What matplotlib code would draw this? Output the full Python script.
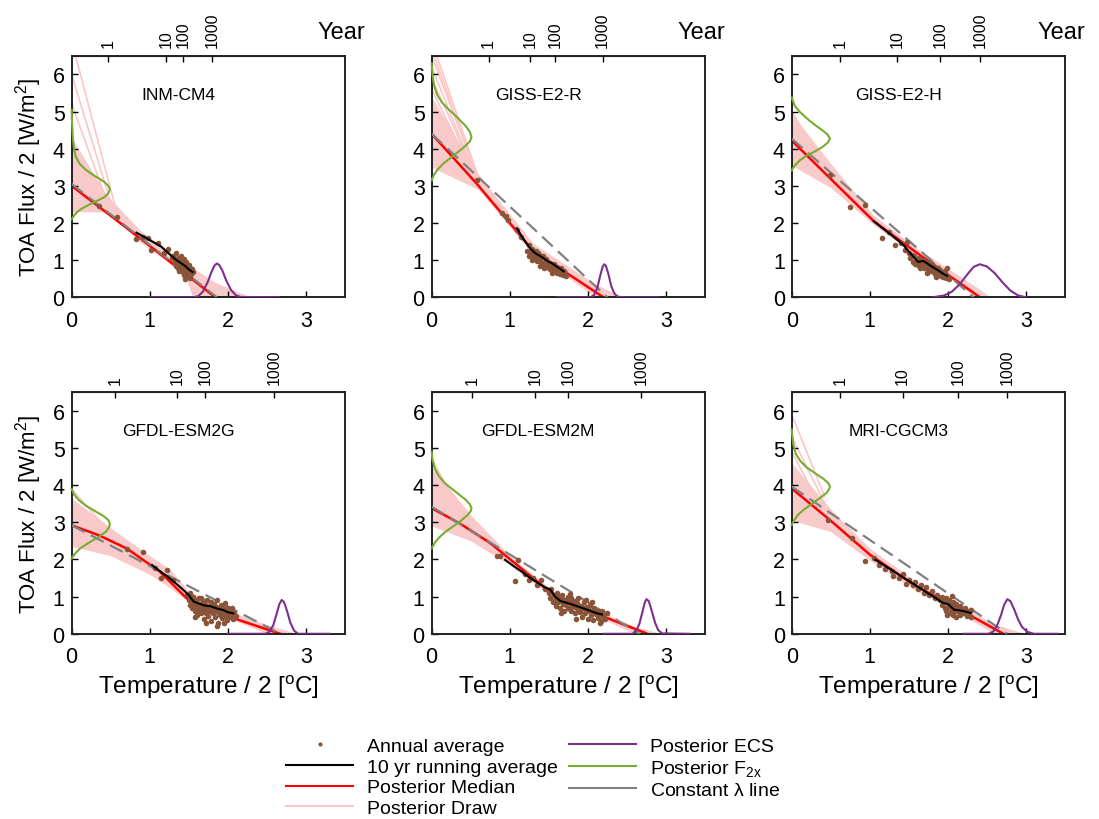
import matplotlib
matplotlib.use('Agg')
import matplotlib.pyplot as plt
from matplotlib.lines import Line2D

plt.rcParams['font.family'] = ['Liberation Sans', 'DejaVu Sans']
plt.rcParams['mathtext.fontset'] = 'custom'
plt.rcParams['mathtext.rm'] = 'Liberation Sans'
plt.rcParams['mathtext.it'] = 'Liberation Sans:italic'
plt.rcParams['mathtext.default'] = 'regular'

# ---------------- data ----------------
models = ['INM-CM4', 'GISS-E2-R', 'GISS-E2-H', 'GFDL-ESM2G', 'GFDL-ESM2M', 'MRI-CGCM3']
year_labels = ['1', '10', '100', '1000']
year_pos = [[0.47, 1.21, 1.43, 1.80],
            [0.73, 1.26, 1.58, 2.19],
            [0.62, 1.35, 1.90, 2.41],
            [0.56, 1.35, 1.71, 2.59],
            [0.52, 1.32, 1.75, 2.68],
            [0.62, 1.42, 2.13, 2.76]]

# annual averages (T, F)
inm_points = [(0.35, 2.46), (0.58, 2.17), (0.83, 1.56), (0.92, 1.62), (0.98, 1.61), (1.01, 1.28),
              (1.11, 1.47), (1.18, 1.20), (1.24, 1.31), (1.28, 1.05), (1.30, 1.12), (1.32, 0.98),
              (1.34, 1.18), (1.35, 0.90), (1.36, 1.05), (1.37, 0.82), (1.38, 1.00), (1.39, 0.92),
              (1.40, 0.75), (1.40, 1.10), (1.41, 0.86), (1.42, 0.68), (1.42, 0.95), (1.43, 0.80),
              (1.44, 1.02), (1.44, 0.60), (1.45, 0.88), (1.46, 0.72), (1.46, 0.55), (1.47, 0.95),
              (1.48, 0.82), (1.48, 0.65), (1.49, 0.75), (1.50, 0.88), (1.50, 0.58), (1.51, 0.70),
              (1.52, 0.80), (1.53, 0.62), (1.54, 0.75), (1.55, 0.68), (1.38, 0.72), (1.36, 0.78),
              (1.33, 0.85), (1.45, 0.50), (1.52, 0.52)]
gissr_points = [(0.58, 3.15), (0.90, 2.26), (0.95, 2.20), (0.98, 2.08), (1.09, 1.81), (1.15, 1.62),
                (1.22, 1.25), (1.24, 1.10), (1.25, 1.40), (1.27, 1.20), (1.28, 1.00), (1.29, 1.30),
                (1.30, 1.15), (1.31, 1.05), (1.33, 1.25), (1.34, 1.12), (1.35, 0.98), (1.36, 1.20),
                (1.37, 1.05), (1.38, 1.15), (1.40, 0.95), (1.41, 1.08), (1.42, 0.88), (1.43, 1.12),
                (1.45, 0.92), (1.46, 1.02), (1.47, 0.85), (1.48, 0.96), (1.50, 0.80), (1.51, 0.92),
                (1.52, 0.75), (1.53, 0.88), (1.55, 0.80), (1.56, 0.70), (1.57, 0.90), (1.58, 0.75),
                (1.60, 0.65), (1.61, 0.82), (1.62, 0.72), (1.64, 0.62), (1.65, 0.78), (1.66, 0.68),
                (1.68, 0.60), (1.70, 0.72), (1.71, 0.65), (1.72, 0.58), (1.44, 0.78), (1.39, 0.85),
                (1.54, 0.65)]
gissh_points = [(0.49, 3.29), (0.75, 2.44), (0.94, 2.48), (1.15, 1.59), (1.24, 1.75), (1.32, 1.41),
                (1.40, 1.45), (1.47, 1.50), (1.45, 1.28), (1.50, 1.20), (1.52, 1.05), (1.54, 1.15),
                (1.55, 0.95), (1.57, 1.10), (1.58, 0.90), (1.60, 1.00), (1.62, 0.88), (1.63, 1.05),
                (1.64, 0.80), (1.66, 0.95), (1.67, 0.85), (1.68, 1.00), (1.70, 0.78), (1.71, 0.90),
                (1.72, 0.82), (1.74, 0.95), (1.75, 0.75), (1.76, 0.85), (1.78, 0.70), (1.79, 0.80),
                (1.80, 0.90), (1.82, 0.68), (1.83, 0.78), (1.84, 0.62), (1.86, 0.72), (1.87, 0.80),
                (1.88, 0.60), (1.90, 0.70), (1.91, 0.58), (1.92, 0.66), (1.94, 0.55), (1.95, 0.62),
                (1.96, 0.70), (1.97, 0.52), (1.98, 0.60), (2.00, 0.56), (2.01, 0.48), (1.99, 0.80),
                (1.85, 0.55), (1.73, 0.65)]
esm2g_points = [(0.71, 2.29), (0.92, 2.20), (1.07, 1.76), (1.15, 1.49), (1.22, 1.71), (1.30, 1.45),
                (1.48, 1.05), (1.50, 0.90), (1.51, 1.10), (1.52, 0.78), (1.53, 0.98), (1.54, 0.68),
                (1.55, 0.88), (1.56, 1.00), (1.57, 0.75), (1.58, 0.60), (1.59, 0.90), (1.60, 0.82),
                (1.61, 0.50), (1.62, 0.70), (1.63, 0.95), (1.64, 0.62), (1.65, 0.80), (1.66, 0.55),
                (1.67, 0.72), (1.68, 0.88), (1.69, 0.40), (1.70, 0.65), (1.71, 0.78), (1.72, 0.55),
                (1.73, 0.90), (1.74, 0.68), (1.75, 0.48), (1.76, 0.75), (1.77, 0.60), (1.78, 0.85),
                (1.79, 0.35), (1.80, 0.70), (1.81, 0.55), (1.82, 0.80), (1.83, 0.62), (1.84, 0.45),
                (1.85, 0.72), (1.86, 0.90), (1.87, 0.58), (1.88, 0.28), (1.89, 0.68), (1.90, 0.50),
                (1.91, 0.78), (1.92, 0.60), (1.93, 0.42), (1.94, 0.70), (1.95, 0.55), (1.96, 0.82),
                (1.97, 0.48), (1.98, 0.62), (1.99, 0.38), (2.00, 0.70), (2.01, 0.55), (2.02, 0.45),
                (2.03, 0.62), (2.04, 0.50), (2.05, 0.68), (2.06, 0.40), (2.08, 0.55), (2.10, 0.48),
                (1.58, 0.45), (1.66, 0.95), (1.72, 0.30), (1.86, 0.22), (1.95, 0.30)]
esm2m_points = [(0.83, 2.08), (0.87, 2.08), (1.07, 1.41), (1.11, 1.99), (1.20, 1.60), (1.25, 1.45),
                (1.30, 1.50), (1.35, 1.30), (1.40, 1.45), (1.45, 1.20), (1.50, 1.10), (1.52, 0.95),
                (1.53, 1.20), (1.55, 0.85), (1.56, 1.05), (1.58, 0.92), (1.59, 0.75), (1.60, 1.10),
                (1.62, 0.85), (1.63, 0.98), (1.64, 0.70), (1.66, 0.90), (1.67, 1.05), (1.68, 0.80),
                (1.70, 0.62), (1.71, 0.92), (1.72, 0.78), (1.74, 1.00), (1.75, 0.70), (1.76, 0.85),
                (1.78, 0.60), (1.79, 0.95), (1.80, 0.75), (1.82, 0.88), (1.83, 0.55), (1.84, 0.72),
                (1.86, 0.82), (1.87, 0.65), (1.88, 0.95), (1.90, 0.58), (1.91, 0.75), (1.92, 0.45),
                (1.94, 0.68), (1.95, 0.85), (1.96, 0.55), (1.98, 0.72), (1.99, 0.62), (2.00, 0.40),
                (2.02, 0.65), (2.03, 0.78), (2.04, 0.50), (2.06, 0.60), (2.07, 0.38), (2.08, 0.70),
                (2.10, 0.52), (2.12, 0.60), (2.13, 0.42), (2.15, 0.55), (2.17, 0.35), (2.18, 0.62),
                (2.20, 0.48), (2.22, 0.40), (2.24, 0.55), (1.97, 0.92), (2.05, 0.85), (1.65, 0.55),
                (1.85, 0.40), (2.15, 0.30), (1.77, 1.08)]
mri_points = [(0.47, 3.06), (0.77, 2.57), (0.94, 1.95), (1.05, 2.05), (1.12, 1.85), (1.20, 1.75),
              (1.28, 1.70), (1.30, 1.55), (1.38, 1.50), (1.42, 1.62), (1.46, 1.35), (1.50, 1.45),
              (1.55, 1.30), (1.58, 1.40), (1.62, 1.20), (1.65, 1.32), (1.70, 1.10), (1.72, 1.25),
              (1.76, 1.05), (1.80, 1.15), (1.84, 0.95), (1.86, 1.05), (1.90, 0.90), (1.92, 0.78),
              (1.93, 1.00), (1.95, 0.85), (1.96, 0.70), (1.97, 0.95), (1.98, 0.62), (2.00, 0.82),
              (2.01, 0.72), (2.02, 0.90), (2.03, 0.55), (2.04, 0.78), (2.05, 0.65), (2.06, 0.85),
              (2.07, 0.50), (2.08, 0.72), (2.09, 0.60), (2.10, 0.80), (2.11, 0.45), (2.12, 0.68),
              (2.14, 0.58), (2.15, 0.75), (2.16, 0.50), (2.18, 0.65), (2.20, 0.55), (2.22, 0.70),
              (2.24, 0.48), (2.25, 0.60), (2.27, 0.52), (2.29, 0.65), (2.30, 0.45), (2.05, 1.02),
              (1.99, 0.50)]

# 10 yr running averages
run_T = [[0.83, 0.95, 1.05, 1.15, 1.25, 1.33, 1.40, 1.45, 1.50, 1.55],
         [1.09, 1.18, 1.26, 1.33, 1.40, 1.48, 1.55, 1.62, 1.69],
         [1.05, 1.15, 1.25, 1.35, 1.43, 1.52, 1.62, 1.68, 1.73, 1.80, 1.88, 1.95, 1.99],
         [1.03, 1.12, 1.22, 1.32, 1.42, 1.50, 1.56, 1.62, 1.70, 1.78, 1.86, 1.94, 2.00, 2.07],
         [0.94, 1.05, 1.15, 1.25, 1.35, 1.45, 1.52, 1.58, 1.65, 1.75, 1.85, 1.95, 2.05, 2.12, 2.18],
         [1.07, 1.20, 1.35, 1.50, 1.65, 1.80, 1.94, 2.00, 2.08, 2.15, 2.22, 2.29]]
run_F = [[1.74, 1.60, 1.48, 1.36, 1.17, 1.02, 0.92, 0.85, 0.75, 0.68],
         [1.86, 1.55, 1.32, 1.18, 1.10, 0.98, 0.90, 0.80, 0.70],
         [2.05, 1.88, 1.72, 1.55, 1.41, 1.18, 0.95, 0.98, 0.92, 0.82, 0.72, 0.62, 0.58],
         [1.85, 1.70, 1.55, 1.38, 1.20, 1.04, 0.87, 0.82, 0.76, 0.74, 0.68, 0.64, 0.58, 0.55],
         [1.99, 1.82, 1.68, 1.52, 1.38, 1.25, 1.19, 1.00, 0.88, 0.82, 0.75, 0.68, 0.60, 0.55, 0.52],
         [1.99, 1.82, 1.62, 1.42, 1.22, 1.02, 0.83, 0.80, 0.65, 0.63, 0.60, 0.56]]

# posterior median
med_T = [[0, 0.9, 1.84],
         [0, 0.58, 1.30, 2.20],
         [0, 1.05, 1.60, 2.41],
         [0, 0.35, 0.71, 1.13, 1.47, 1.60, 2.07, 2.67],
         [0, 0.36, 0.75, 1.56, 2.24, 2.76],
         [0, 0.49, 1.00, 1.56, 2.03, 2.71]]
med_F = [[3.00, 1.55, 0],
         [4.40, 3.05, 1.25, 0],
         [4.22, 2.05, 1.20, 0],
         [2.92, 2.65, 2.29, 1.67, 0.96, 0.78, 0.42, 0],
         [3.38, 2.97, 2.44, 1.05, 0.43, 0],
         [3.91, 3.06, 2.13, 1.32, 0.79, 0]]

# posterior draw envelope
band_T = [[0, 0.45, 0.9, 1.30, 1.45, 1.55, 1.84, 2.30],
          [0, 0.60, 1.30, 1.70, 2.10, 2.45],
          [0, 0.50, 1.05, 1.60, 2.00, 2.35, 2.55],
          [0, 0.50, 1.00, 1.25, 1.50, 1.80, 2.10, 2.50, 2.90],
          [0, 0.50, 1.00, 1.56, 2.24, 2.60, 2.95],
          [0, 0.50, 1.00, 1.56, 2.03, 2.60, 3.00]]
band_lo = [[2.30, 2.30, 1.45, 0.85, 0.60, 0.0, 0.0, 0.0],
           [3.50, 2.90, 1.15, 0.60, 0.0, 0.0],
           [3.55, 2.95, 1.95, 1.10, 0.55, 0.0, 0.0],
           [2.35, 2.10, 1.60, 1.25, 0.85, 0.55, 0.35, 0.0, 0.0],
           [2.90, 2.50, 1.85, 0.95, 0.35, 0.0, 0.0],
           [3.05, 2.75, 1.98, 1.20, 0.68, 0.0, 0.0]]
band_hi = [[4.30, 2.75, 1.75, 1.15, 0.95, 0.80, 0.40, 0.0],
           [5.40, 3.30, 1.45, 0.90, 0.35, 0.0],
           [4.95, 3.60, 2.20, 1.32, 0.78, 0.30, 0.0],
           [3.65, 2.85, 2.10, 1.75, 1.15, 0.85, 0.55, 0.25, 0.0],
           [4.50, 3.20, 2.10, 1.15, 0.52, 0.20, 0.0],
           [4.60, 3.35, 2.30, 1.45, 0.92, 0.25, 0.0]]

# individual steep posterior draws: start (0, f0) -> (tk, fk)
draw_f0 = [[6.9, 6.0, 5.2],
           [6.9, 6.7, 6.5, 6.2, 5.9, 5.6, 5.2],
           [5.0, 4.6],
           [3.9, 3.4],
           [4.7, 4.2],
           [5.9, 5.3, 4.9]]
draw_tk = [[0.55, 0.50, 0.45],
           [0.62, 0.60, 0.62, 0.58, 0.60, 0.56, 0.60],
           [0.50, 0.45],
           [0.50, 0.45],
           [0.45, 0.45],
           [0.42, 0.45, 0.40]]
draw_fk = [[2.50, 2.55, 2.60],
           [3.10, 3.10, 3.05, 3.15, 3.10, 3.20, 3.10],
           [3.25, 3.20],
           [2.70, 2.60],
           [3.00, 3.05],
           [3.70, 3.40, 3.30]]

# constant lambda line: intercepts
const_F0 = [3.05, 4.40, 4.27, 2.92, 3.42, 3.96]
const_T0 = [1.86, 2.25, 2.33, 2.67, 2.66, 2.76]

# posterior F2x density (drawn sideways at T = 0)
f2x_F = [[2.10, 2.20, 2.30, 2.40, 2.50, 2.60, 2.70, 2.80, 2.90, 3.00, 3.10, 3.20, 3.30, 3.45, 3.60, 3.80, 4.00, 4.30, 4.70, 5.05],
         [3.15, 3.30, 3.45, 3.60, 3.75, 3.90, 4.05, 4.20, 4.31, 4.45, 4.60, 4.75, 4.90, 5.05, 5.25, 5.45, 5.70, 6.00, 6.30],
         [3.42, 3.55, 3.68, 3.80, 3.92, 4.04, 4.16, 4.27, 4.38, 4.50, 4.62, 4.75, 4.88, 5.00, 5.15, 5.38],
         [2.03, 2.15, 2.30, 2.45, 2.60, 2.75, 2.87, 2.96, 3.06, 3.18, 3.30, 3.45, 3.60, 3.75, 3.90],
         [2.30, 2.45, 2.60, 2.75, 2.90, 3.05, 3.20, 3.30, 3.38, 3.48, 3.60, 3.75, 3.90, 4.05, 4.25, 4.45, 4.70, 4.90],
         [2.93, 3.05, 3.20, 3.35, 3.50, 3.65, 3.80, 3.90, 3.96, 4.05, 4.18, 4.32, 4.48, 4.65, 4.85, 5.10, 5.50]]
f2x_D = [[0, 0.03, 0.07, 0.14, 0.23, 0.33, 0.42, 0.47, 0.49, 0.47, 0.42, 0.35, 0.27, 0.17, 0.10, 0.05, 0.03, 0.015, 0.005, 0],
         [0, 0.03, 0.08, 0.15, 0.24, 0.33, 0.42, 0.49, 0.51, 0.49, 0.44, 0.37, 0.30, 0.22, 0.13, 0.07, 0.03, 0.01, 0],
         [0, 0.04, 0.10, 0.18, 0.29, 0.39, 0.46, 0.49, 0.46, 0.39, 0.31, 0.23, 0.16, 0.10, 0.04, 0],
         [0, 0.04, 0.11, 0.22, 0.34, 0.44, 0.48, 0.49, 0.47, 0.40, 0.30, 0.18, 0.09, 0.03, 0],
         [0, 0.04, 0.10, 0.18, 0.28, 0.38, 0.46, 0.50, 0.51, 0.49, 0.44, 0.35, 0.26, 0.17, 0.09, 0.04, 0.01, 0],
         [0, 0.03, 0.08, 0.16, 0.26, 0.36, 0.45, 0.48, 0.49, 0.47, 0.40, 0.30, 0.19, 0.11, 0.05, 0.02, 0]]

# posterior ECS density (drawn on the T axis)
ecs_T = [[1.00, 1.55, 1.62, 1.68, 1.74, 1.79, 1.83, 1.86, 1.89, 1.93, 1.98, 2.04, 2.10, 2.16, 2.65],
         [1.60, 2.03, 2.08, 2.12, 2.16, 2.19, 2.21, 2.23, 2.26, 2.30, 2.34, 2.38, 2.45, 2.90],
         [1.80, 1.95, 2.05, 2.15, 2.25, 2.33, 2.41, 2.50, 2.60, 2.70, 2.80, 2.90, 3.00],
         [2.00, 2.48, 2.53, 2.58, 2.62, 2.66, 2.69, 2.72, 2.76, 2.80, 2.85, 2.90, 3.30],
         [2.20, 2.57, 2.62, 2.66, 2.70, 2.73, 2.75, 2.78, 2.82, 2.86, 2.90, 2.95, 3.30],
         [2.20, 2.52, 2.58, 2.63, 2.68, 2.72, 2.76, 2.80, 2.85, 2.90, 2.95, 3.02, 3.10, 3.40]]
ecs_D = [[0, 0, 0.03, 0.15, 0.40, 0.68, 0.86, 0.91, 0.87, 0.72, 0.45, 0.20, 0.06, 0.01, 0],
         [0, 0, 0.06, 0.25, 0.60, 0.83, 0.89, 0.85, 0.65, 0.30, 0.10, 0.02, 0, 0],
         [0, 0.05, 0.15, 0.35, 0.62, 0.82, 0.89, 0.83, 0.65, 0.40, 0.18, 0.05, 0],
         [0, 0, 0.05, 0.22, 0.50, 0.80, 0.91, 0.85, 0.60, 0.30, 0.08, 0, 0],
         [0, 0, 0.08, 0.27, 0.60, 0.85, 0.93, 0.88, 0.60, 0.30, 0.10, 0.01, 0],
         [0, 0, 0.06, 0.22, 0.50, 0.78, 0.93, 0.88, 0.65, 0.38, 0.18, 0.05, 0, 0]]

all_points = [inm_points, gissr_points, gissh_points, esm2g_points, esm2m_points, mri_points]

# ---------------- styles ----------------
C_PT = '#8a5438'
C_RED = '#ff0000'
C_DRAW = '#fbc6c6'
C_BAND = '#f9caca'
C_GREEN = '#77ac30'
C_PURPLE = '#7e2f8e'
C_GRAY = '#808080'

fig = plt.figure(figsize=(10.99, 8.2), dpi=100)
lefts = [0.0652, 0.3928, 0.7204]
bottoms = [0.6362, 0.2259]
W, H = 0.2487, 0.2945

for i, name in enumerate(models):
    r, c = divmod(i, 3)
    ax = fig.add_axes([lefts[c], bottoms[r], W, H])
    ax.set_xlim(0, 3.5)
    ax.set_ylim(0, 6.5)

    ax.fill_between(band_T[i], band_lo[i], band_hi[i], color=C_BAND, lw=0, zorder=1)
    for f0, tk, fk in zip(draw_f0[i], draw_tk[i], draw_fk[i]):
        ax.plot([0, tk], [f0, fk], color=C_DRAW, lw=1.2, zorder=1.5)
    ax.plot(med_T[i], med_F[i], color=C_RED, lw=1.8, zorder=2)
    ax.plot([0, const_T0[i]], [const_F0[i], 0], color=C_GRAY, lw=1.6,
            dashes=(6.5, 3.2), zorder=3)
    pts = all_points[i]
    ax.plot([p[0] for p in pts], [p[1] for p in pts], 'o', color=C_PT, ms=4,
            mew=0, zorder=4)
    ax.plot(run_T[i], run_F[i], color='black', lw=1.5, zorder=5)
    ax.plot(f2x_D[i], f2x_F[i], color=C_GREEN, lw=1.5, zorder=6, clip_on=False)
    ax.plot(ecs_T[i], ecs_D[i], color=C_PURPLE, lw=1.5, zorder=6)

    ax.text(0.39, 0.84, name, transform=ax.transAxes, ha='center', va='center',
            fontsize=12.5)

    ax.set_xticks([0, 1, 2, 3])
    ax.set_yticks([0, 1, 2, 3, 4, 5, 6])
    ax.tick_params(direction='in', length=4, width=1, labelsize=15.5, top=False,
                   right=False)
    ax.tick_params(axis='x', pad=9)
    ax.tick_params(axis='y', pad=5)
    for s in ax.spines.values():
        s.set_linewidth(1.4)
        s.set_color('#222222')

    if c == 0:
        ax.set_ylabel('TOA Flux / 2 [W/m$^2$]', fontsize=16, labelpad=6)
    if r == 1:
        ax.set_xlabel('Temperature / 2 [$^o$C]', fontsize=17.5, labelpad=4)

    top = ax.secondary_xaxis('top')
    top.set_xticks(year_pos[i])
    top.set_xticklabels(year_labels, rotation=90, fontsize=11.5)
    top.tick_params(direction='in', length=4, width=1, pad=6)
    if r == 0:
        ax.text(0.985, 1.10, 'Year', transform=ax.transAxes, ha='center',
                va='center', fontsize=17)

handles = [
    Line2D([], [], ls='none', marker='o', ms=3, mew=0, color=C_PT),
    Line2D([], [], color='black', lw=1.5),
    Line2D([], [], color=C_RED, lw=1.5),
    Line2D([], [], color=C_DRAW, lw=1.5),
    Line2D([], [], color=C_PURPLE, lw=1.5),
    Line2D([], [], color=C_GREEN, lw=1.5),
    Line2D([], [], color=C_GRAY, lw=1.5),
]
labels = ['Annual average', '10 yr running average', 'Posterior Median', 'Posterior Draw',
          'Posterior ECS', 'Posterior F$_{2x}$', r'Constant $\lambda$ line']
fig.legend(handles, labels, loc='upper left', bbox_to_anchor=(0.2602, 0.0995),
           ncol=2, frameon=False, fontsize=14, handlelength=3.45, handletextpad=0.72,
           columnspacing=0.57, labelspacing=0.16, borderpad=0, borderaxespad=0)

fig.savefig('out.png', dpi=100)
